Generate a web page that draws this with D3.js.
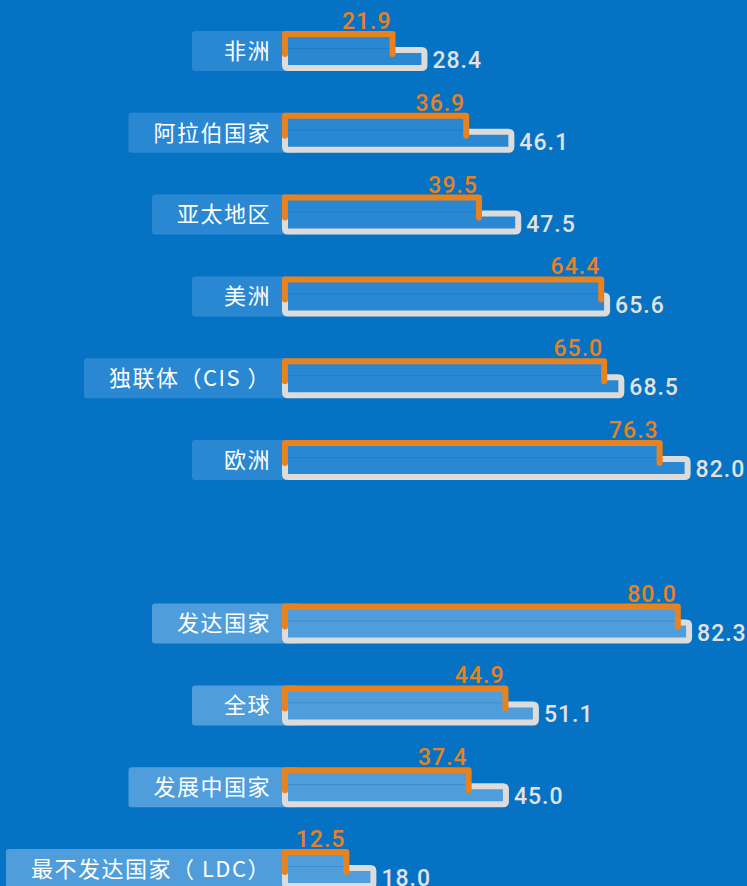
<!DOCTYPE html>
<html>
<head>
<meta charset="utf-8">
<script src="https://cdn.jsdelivr.net/npm/d3@7"></script>
<style>
  html, body { margin: 0; padding: 0; background: #0672c4; }
  svg { display: block; }
</style>
</head>
<body>
<div id="chart"></div>
<script>
// regions (top block) and country groups (bottom block)
const regions = ["非洲", "阿拉伯国家", "亚太地区", "美洲", "独联体（CIS ）", "欧洲"];
const regionInner = [21.9, 36.9, 39.5, 64.4, 65.0, 76.3];   // orange
const regionOuter = [28.4, 46.1, 47.5, 65.6, 68.5, 82.0];   // grey

const groups = ["发达国家", "全球", "发展中国家", "最不发达国家（ LDC）"];
const groupInner = [80.0, 44.9, 37.4, 12.5];
const groupOuter = [82.3, 51.1, 45.0, 18.0];

const W = 747, H = 886;
const GAP = "__gap";

let rows = [];
regions.forEach((name, i) => {
  rows.push({ name: name, inner: regionInner[i], outer: regionOuter[i], block: 0 });
});
groups.forEach((name, i) => {
  rows.push({ name: name, inner: groupInner[i], outer: groupOuter[i], block: 1 });
});

const fillColor = ["#2a88d2", "#4f9edb"];
const orange = "#e8821e";
const grey = "#dcdcdc";

let svg = d3.select("#chart")
  .append("svg")
  .attr("width", W)
  .attr("height", H);

svg.append("rect")
  .attr("width", W)
  .attr("height", H)
  .attr("fill", "#0672c4");

let x = d3.scaleLinear()
  .domain([0, 100])
  .range([285, 776]);

let y = d3.scalePoint()
  .domain([...regions, GAP, ...groups])
  .range([51, 869]);

let row = svg.selectAll(".row")
  .data(rows)
  .enter()
  .append("g")
  .attr("class", "row")
  .attr("transform", d => "translate(0," + y(d.name) + ")");

// label box behind the name, sized from the text
let boxes = row.append("rect");

let labels = row.append("text")
  .attr("x", 271)
  .attr("y", 0)
  .attr("dy", "0.35em")
  .attr("text-anchor", "end")
  .attr("fill", "#ffffff")
  .style("font-family", "'Noto Sans CJK SC', sans-serif")
  .style("font-size", "22px")
  .style("letter-spacing", "1.5px")
  .text(d => d.name);

labels.each(function (d) {
  d.left = Math.min(192, 271 - this.getComputedTextLength() - 25);
});

boxes
  .attr("x", d => d.left)
  .attr("y", -20)
  .attr("width", d => 300 - d.left)
  .attr("height", 40)
  .attr("rx", 3)
  .attr("fill", d => fillColor[d.block]);

// bar fills
row.append("rect")
  .attr("x", x(0))
  .attr("y", -17)
  .attr("width", d => x(d.inner) - x(0))
  .attr("height", 20)
  .attr("fill", d => fillColor[d.block]);

row.append("rect")
  .attr("x", x(0))
  .attr("y", -1)
  .attr("width", d => x(d.outer) - x(0))
  .attr("height", 18)
  .attr("fill", d => fillColor[d.block]);

// faint seam inside the bar
row.append("line")
  .attr("x1", x(0) + 3)
  .attr("x2", d => x(d.inner) - 3)
  .attr("y1", -2.5)
  .attr("y2", -2.5)
  .attr("stroke", "#1565a8")
  .attr("stroke-opacity", 0.3)
  .attr("stroke-width", 1);

// grey outline (outer value), open where the orange bracket sits
row.append("path")
  .attr("d", d => "M" + x(d.inner) + ",-1 H" + (x(d.outer) - 3) +
    " Q" + x(d.outer) + ",-1 " + x(d.outer) + ",2 V14 Q" + x(d.outer) + ",17 " + (x(d.outer) - 3) + ",17" +
    " H" + (x(0) + 3) + " Q" + x(0) + ",17 " + x(0) + ",14 V0")
  .attr("fill", "none")
  .attr("stroke", grey)
  .attr("stroke-width", 6)
  .attr("stroke-linejoin", "round");

// orange bracket (inner value)
row.append("path")
  .attr("d", d => "M" + x(0) + ",3 V-17 H" + x(d.inner) + " V3")
  .attr("fill", "none")
  .attr("stroke", orange)
  .attr("stroke-width", 6)
  .attr("stroke-linejoin", "round")
  .attr("stroke-linecap", "round");

// value labels
row.append("text")
  .attr("x", d => x(d.inner) - 1)
  .attr("y", -22)
  .attr("text-anchor", "end")
  .attr("fill", orange)
  .style("font-family", "Roboto, sans-serif")
  .style("font-weight", "500")
  .style("font-size", "23px")
  .style("letter-spacing", "1px")
  .text(d => d.inner.toFixed(1));

row.append("text")
  .attr("x", d => x(d.outer) + 8)
  .attr("y", 17)
  .attr("fill", "#e2e2e2")
  .style("font-family", "Roboto, sans-serif")
  .style("font-weight", "500")
  .style("font-size", "23px")
  .style("letter-spacing", "1px")
  .text(d => d.outer.toFixed(1));
</script>
</body>
</html>
